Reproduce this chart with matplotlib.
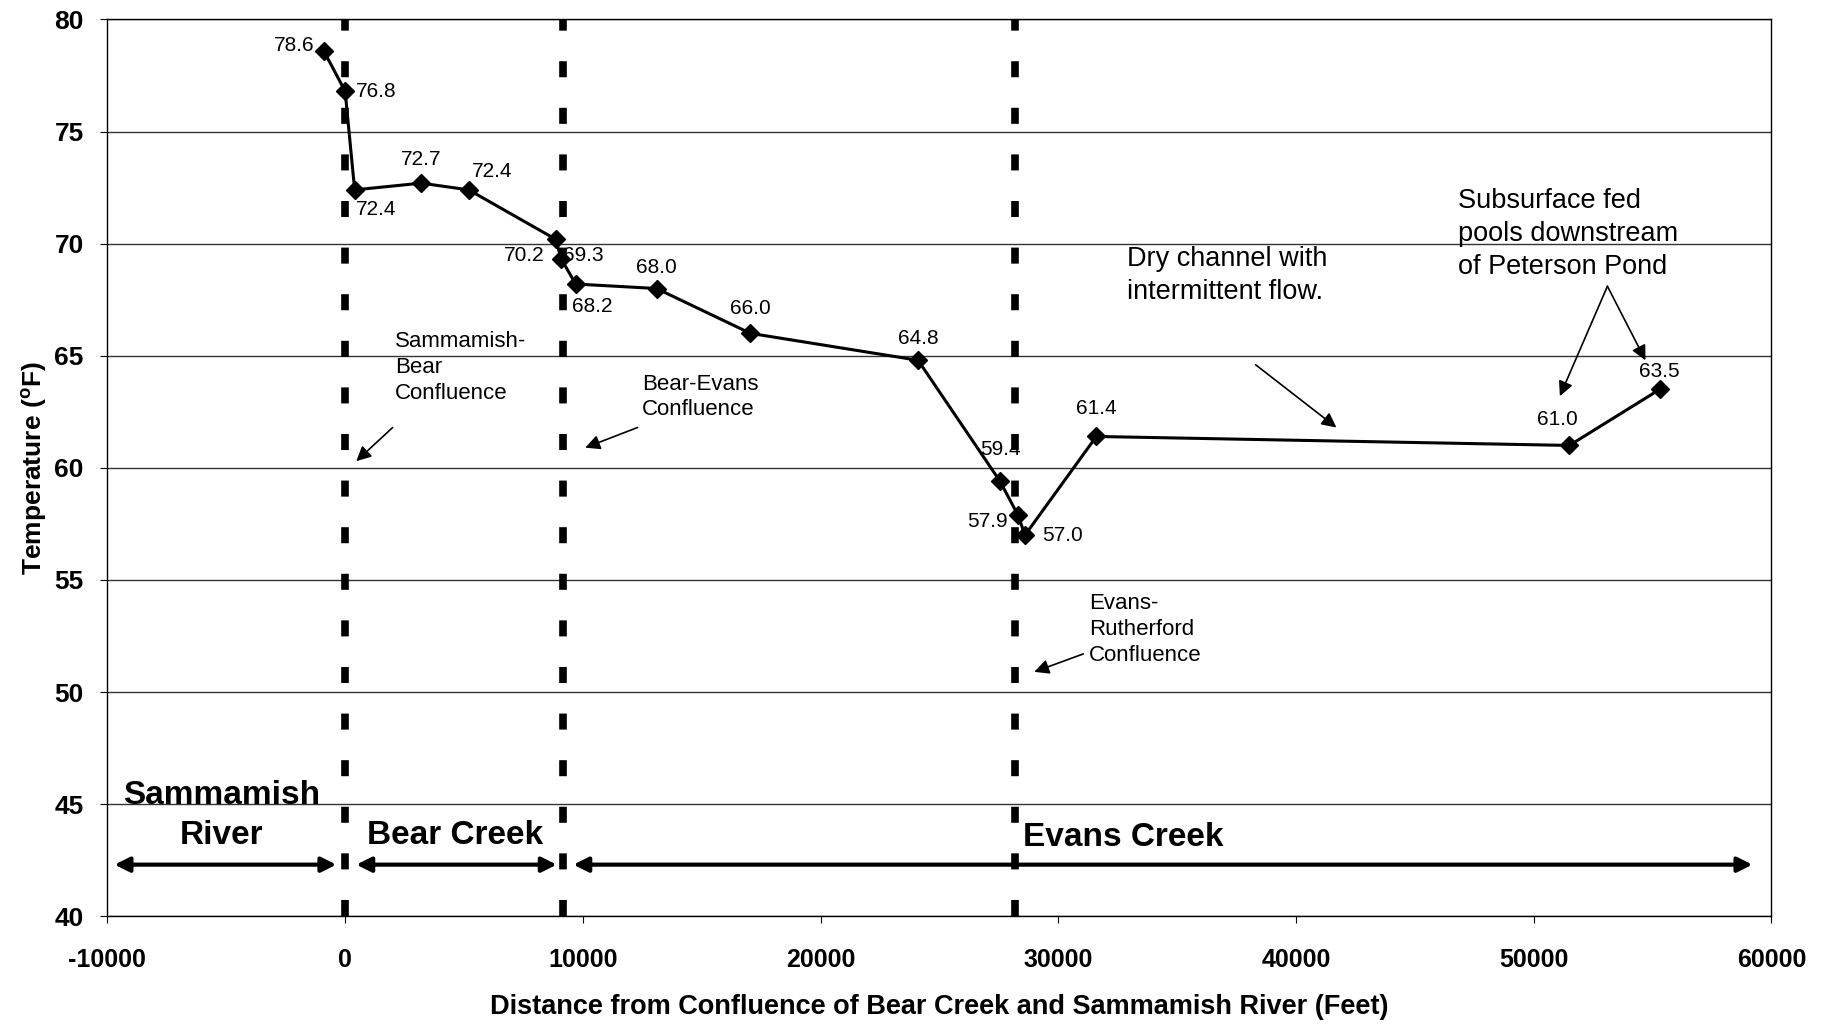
import matplotlib
matplotlib.use("Agg")
import matplotlib.pyplot as plt

plt.rcParams['font.family'] = ['Liberation Sans', 'DejaVu Sans']
plt.rcParams['axes.unicode_minus'] = False
plt.rcParams['mathtext.default'] = 'regular'

# distance (ft) and temperature (F)
distance = [-900, 0, 400, 3200, 5200, 8850, 9100, 9700, 13100, 17050,
            24100, 27550, 28300, 28600, 31600, 51500, 55300]
temperature = [78.6, 76.8, 72.4, 72.7, 72.4, 70.2, 69.3, 68.2, 68.0, 66.0,
               64.8, 59.4, 57.9, 57.0, 61.4, 61.0, 63.5]
# label offsets in points (dx, dy, ha)
label_offsets = [(-7, 4, 'right'), (8, 0, 'left'), (1, -14, 'left'), (0, 17, 'center'),
                 (2, 13, 'left'), (-8, -12, 'right'), (1, 3, 'left'), (-3, -16, 'left'),
                 (0, 15, 'center'), (0, 18, 'center'), (0, 16, 'center'), (0, 23, 'center'),
                 (-7, -5, 'right'), (12, 0, 'left'), (0, 20, 'center'), (-9, 19, 'center'),
                 (0, 13, 'center')]

confluences = [0, 9150, 28200]
x_ticks = [-10000, 0, 10000, 20000, 30000, 40000, 50000, 60000]
y_ticks = [40, 45, 50, 55, 60, 65, 70, 75, 80]

fig = plt.figure(figsize=(18.3, 10.26), dpi=100)
ax = fig.add_axes([0.0587, 0.107, 0.9093, 0.874])

for y in y_ticks:
    ax.axhline(y, color='#333333', lw=1, zorder=1)

for xc in confluences:
    ax.axvline(xc, color='black', lw=5.5, dashes=(2.1, 4.0), zorder=2)

ax.plot(distance, temperature, color='black', lw=2.2, marker='D', markersize=9, zorder=4)

for x, y, (dx, dy, ha) in zip(distance, temperature, label_offsets):
    ax.annotate(f"{y:.1f}", (x, y), xytext=(dx, dy), textcoords='offset points',
                ha=ha, va='center', fontsize=15, zorder=5)

arrow = dict(arrowstyle='-|>', color='black', lw=1.2, mutation_scale=22, shrinkA=0, shrinkB=0)

ax.text(2100, 66.1, "Sammamish-\nBear\nConfluence", fontsize=16, va='top', linespacing=1.3)
ax.annotate("", xy=(470, 60.3), xytext=(2000, 61.8), arrowprops=arrow)

ax.text(12500, 64.2, "Bear-Evans\nConfluence", fontsize=16, va='top', linespacing=1.3)
ax.annotate("", xy=(10100, 60.9), xytext=(12300, 61.8), arrowprops=arrow)

ax.text(31300, 54.4, "Evans-\nRutherford\nConfluence", fontsize=16, va='top', linespacing=1.3)
ax.annotate("", xy=(28990, 50.9), xytext=(31050, 51.7), arrowprops=arrow)

ax.text(32900, 69.9, "Dry channel with\nintermittent flow.", fontsize=19.5, va='top',
        linespacing=1.35)
ax.annotate("", xy=(41700, 61.8), xytext=(38300, 64.6), arrowprops=arrow)

ax.text(46800, 72.5, "Subsurface fed\npools downstream\nof Peterson Pond", fontsize=19.5,
        va='top', linespacing=1.35)
ax.annotate("", xy=(51100, 63.2), xytext=(53100, 68.1), arrowprops=arrow)
ax.annotate("", xy=(54700, 64.8), xytext=(53100, 68.1), arrowprops=arrow)

# reach labels
ax.text(-5200, 44.5, "Sammamish\nRiver", fontsize=24, fontweight='bold', ha='center',
        va='center', linespacing=1.35)
ax.text(4630, 43.6, "Bear Creek", fontsize=24, fontweight='bold', ha='center', va='center')
ax.text(28500, 43.5, "Evans Creek", fontsize=24, fontweight='bold', ha='left', va='center')

reach_arrow = dict(arrowstyle='<|-|>', color='black', lw=3, mutation_scale=22, shrinkA=0, shrinkB=0)
ax.annotate("", xy=(-9700, 42.3), xytext=(-370, 42.3), arrowprops=reach_arrow)
ax.annotate("", xy=(470, 42.3), xytext=(8900, 42.3), arrowprops=reach_arrow)
ax.annotate("", xy=(9600, 42.3), xytext=(59200, 42.3), arrowprops=reach_arrow)

ax.set_xlim(-10000, 60000)
ax.set_ylim(40, 80)
ax.set_xticks(x_ticks)
ax.set_yticks(y_ticks)
ax.tick_params(axis='x', length=5, pad=18, labelsize=18)
ax.tick_params(axis='y', length=5, pad=12, labelsize=19)
for lbl in ax.get_xticklabels() + ax.get_yticklabels():
    lbl.set_fontweight('bold')

ax.set_xlabel("Distance from Confluence of Bear Creek and Sammamish River (Feet)",
              fontsize=19.5, fontweight='bold', labelpad=16)
ax.set_ylabel("Temperature ($^{o}$F)", fontsize=19, fontweight='bold', labelpad=4)

for s in ax.spines.values():
    s.set_color('black')
    s.set_linewidth(1)

fig.savefig("out.png", dpi=100)
